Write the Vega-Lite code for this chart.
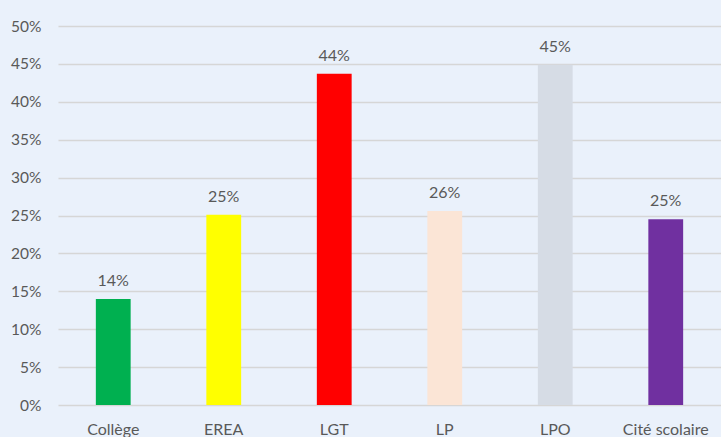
{
  "$schema": "https://vega.github.io/schema/vega-lite/v6.json",
  "autosize": "none",
  "width": 663,
  "height": 379,
  "padding": {"left": 58, "top": 26, "right": 0, "bottom": 32},
  "background": "#EAF1FB",
  "config": {
    "view": {"stroke": null},
    "font": "Lato"
  },
  "data": {
    "values": [
      {"type": "Collège", "value": 0.14, "label": "14%"},
      {"type": "EREA", "value": 0.251, "label": "25%"},
      {"type": "LGT", "value": 0.437, "label": "44%"},
      {"type": "LP", "value": 0.256, "label": "26%"},
      {"type": "LPO", "value": 0.449, "label": "45%"},
      {"type": "Cité scolaire", "value": 0.245, "label": "25%"}
    ]
  },
  "encoding": {
    "x": {
      "field": "type",
      "type": "nominal",
      "sort": null,
      "scale": {"paddingInner": 0.685, "paddingOuter": 0.3425},
      "axis": {
        "title": null,
        "labelAngle": 0,
        "labelFontSize": 16,
        "labelColor": "#595959",
        "labelPadding": 16,
        "ticks": false,
        "domain": false,
        "grid": false
      }
    },
    "y": {
      "field": "value",
      "type": "quantitative",
      "scale": {"domain": [0, 0.5], "nice": false},
      "axis": {
        "title": null,
        "format": ".0%",
        "values": [0, 0.05, 0.1, 0.15, 0.2, 0.25, 0.3, 0.35, 0.4, 0.45, 0.5],
        "labelFontSize": 15.5,
        "labelColor": "#595959",
        "labelPadding": 17,
        "ticks": false,
        "domain": false,
        "grid": true,
        "gridColor": "#D6D6D6",
        "gridWidth": 1.5
      }
    }
  },
  "layer": [
    {
      "mark": {"type": "bar"},
      "encoding": {
        "color": {
          "field": "type",
          "type": "nominal",
          "sort": null,
          "legend": null,
          "scale": {
            "domain": ["Collège", "EREA", "LGT", "LP", "LPO", "Cité scolaire"],
            "range": ["#00B050", "#FFFF00", "#FF0000", "#FBE5D6", "#D6DCE5", "#7030A0"]
          }
        }
      }
    },
    {
      "mark": {"type": "text", "baseline": "alphabetic", "dy": -13, "fontSize": 16, "color": "#595959"},
      "encoding": {"text": {"field": "label"}}
    }
  ]
}
